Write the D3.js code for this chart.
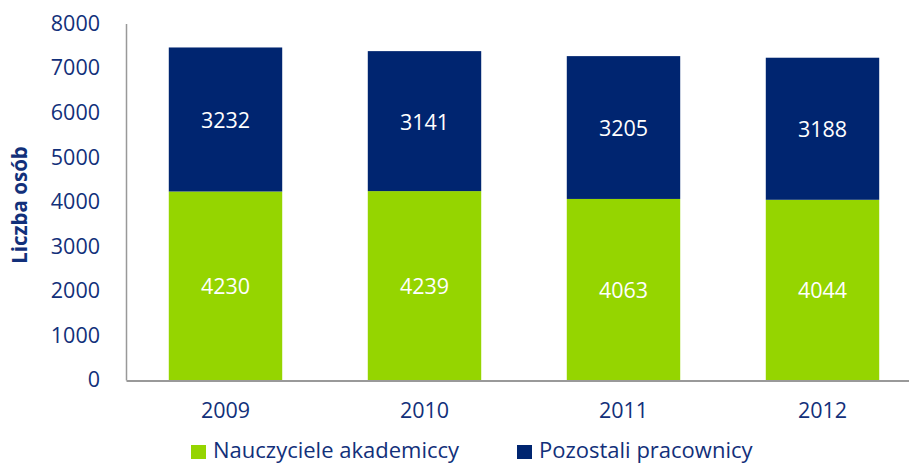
<!DOCTYPE html>
<html><head><meta charset="utf-8">
<script src="https://cdn.jsdelivr.net/npm/d3@7"></script>
<style>body{margin:0;background:#fff}svg{display:block}</style>
</head><body>
<svg id="c" width="909" height="465"></svg>
<script>
const categories = ["2009", "2010", "2011", "2012"];
const academic = [4230, 4239, 4063, 4044];
const otherStaff = [3232, 3141, 3205, 3188];
const seriesNames = ["Nauczyciele akademiccy", "Pozostali pracownicy"];
const yTicks = [0, 1000, 2000, 3000, 4000, 5000, 6000, 7000, 8000];
const yTitle = "Liczba osób";

const colors = ["#95D500", "#002570"];
const textColor = "#12307A";
const font = "'Open Sans', 'Noto Sans', sans-serif";

const svg = d3.select("#c");
const x = d3.scaleBand().domain(categories).range([126, 922]).paddingInner(0.43).paddingOuter(0.215);
const y = d3.scaleLinear().domain([0, 8000]).range([380, 23.5]);

const rows = categories.map((c, i) => ({cat: c, a: academic[i], b: otherStaff[i]}));
const stack = d3.stack().keys(["a", "b"])(rows);

svg.append("g").selectAll("g").data(stack).join("g")
  .attr("fill", (d, i) => colors[i])
  .selectAll("rect").data(d => d).join("rect")
  .attr("x", d => x(d.data.cat))
  .attr("width", x.bandwidth())
  .attr("y", d => y(d[1]))
  .attr("height", d => y(d[0]) - y(d[1]));

svg.append("g").selectAll("g").data(stack).join("g")
  .selectAll("text").data(d => d).join("text")
  .attr("x", d => x(d.data.cat) + x.bandwidth() / 2)
  .attr("y", d => (y(d[0]) + y(d[1])) / 2 + 1)
  .attr("dy", "0.35em")
  .attr("text-anchor", "middle")
  .attr("fill", "#fff")
  .attr("font-family", font)
  .attr("font-size", 21.5)
  .text(d => d[1] - d[0]);

// axes
const yAxis = svg.append("g").attr("transform", "translate(126,0)")
  .call(d3.axisLeft(y).tickValues(yTicks).tickFormat(d3.format("d")).tickSize(0).tickPadding(26));
yAxis.select(".domain").attr("stroke", "#999").attr("stroke-width", 1.5);
yAxis.selectAll("text").attr("fill", textColor).attr("font-family", font).attr("font-size", 21.5);

const xAxis = svg.append("g").attr("transform", "translate(0,380.5)")
  .call(d3.axisBottom(x).tickSize(0).tickPadding(22));
xAxis.select(".domain").attr("stroke", "#999").attr("stroke-width", 2);
xAxis.selectAll("text").attr("fill", textColor).attr("font-family", font).attr("font-size", 21.5);

svg.append("text")
  .attr("transform", "translate(27,205) rotate(-90)")
  .attr("text-anchor", "middle")
  .attr("fill", textColor)
  .attr("font-family", font)
  .attr("font-weight", "bold")
  .attr("font-size", 20.5)
  .text(yTitle);

// legend
const legX = [191, 517];
const leg = svg.append("g").selectAll("g").data(seriesNames).join("g")
  .attr("transform", (d, i) => `translate(${legX[i]},445)`);
leg.append("rect").attr("width", 15).attr("height", 14).attr("fill", (d, i) => colors[i]);
leg.append("text").attr("x", 22).attr("y", 5).attr("dy", "0.35em")
  .attr("fill", textColor).attr("font-family", font).attr("font-size", 22)
  .text(d => d);
</script>
</body></html>
